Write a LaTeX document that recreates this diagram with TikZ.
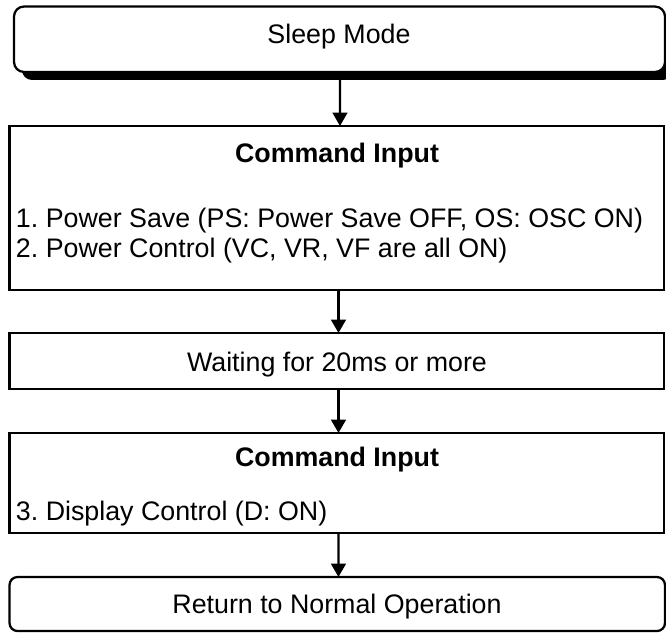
\documentclass[tikz,border=0pt]{standalone}
\usepackage{fontspec}
\setmainfont{Liberation Sans}
\usetikzlibrary{arrows.meta,shadows}
\frenchspacing
\begin{document}
\begin{tikzpicture}[x=0.75pt,y=-0.75pt,
  box/.style={draw=black, line width=1.7pt, inner sep=0pt, outer sep=0pt, fill=white},
  txt/.style={inner sep=0pt, outer sep=0pt, font=\fontsize{20.1pt}{24pt}\selectfont},
  arr/.style={line width=1.7pt, -{Triangle[width=11pt,length=10pt]}}]
\useasboundingbox (0,0) rectangle (666,632);
% boxes
\node[box, rounded corners=7.5pt, minimum width=488.25pt, minimum height=49.1pt,
      drop shadow={shadow xshift=6pt, shadow yshift=-6pt, fill=black, opacity=1}] (sleep) at (339.5,39.25) {};
\node[box, minimum width=490.9pt, minimum height=123pt] (cmd1) at (336.75,208) {};
\node[box, minimum width=490.9pt, minimum height=42pt] (wait) at (336.75,361) {};
\node[box, minimum width=490.9pt, minimum height=75pt] (cmd2) at (336.75,483) {};
\node[box, rounded corners=6pt, minimum width=491.6pt, minimum height=40.5pt] (ret) at (337.25,604) {};
% texts
\node[txt, anchor=base] (tsleep) at (339,43.5) {Sleep Mode};
\node[txt, anchor=base, font=\fontsize{20.1pt}{24pt}\selectfont\bfseries] (tcmd1) at (337,162) {Command Input};
\node[txt, anchor=base west] (tps) at (16,227) {1. Power Save (PS: Power Save OFF, OS: OSC ON)};
\node[txt, anchor=base west] (tpc) at (16,257) {2. Power Control (VC, VR, VF are all ON)};
\node[txt, anchor=base] (twait) at (337,371) {Waiting for 20ms or more};
\node[txt, anchor=base, font=\fontsize{20.1pt}{24pt}\selectfont\bfseries] (tcmd2) at (337,466) {Command Input};
\node[txt, anchor=base west] (tdc) at (16,520) {3. Display Control (D: ON)};
\node[txt, anchor=base] (tret) at (337,613) {Return to Normal Operation};
% arrows
\draw[arr] ([xshift=0.4pt,yshift=-6pt]sleep.south) -- ([xshift=2.4pt]cmd1.north);
\draw[arr] ([xshift=1.3pt]cmd1.south) -- ([xshift=1.3pt]wait.north);
\draw[arr] ([xshift=1.3pt]wait.south) -- ([xshift=1.3pt]cmd2.north);
\draw[arr] ([xshift=1.3pt]cmd2.south) -- ([xshift=0.9pt]ret.north);
\end{tikzpicture}
\end{document}
